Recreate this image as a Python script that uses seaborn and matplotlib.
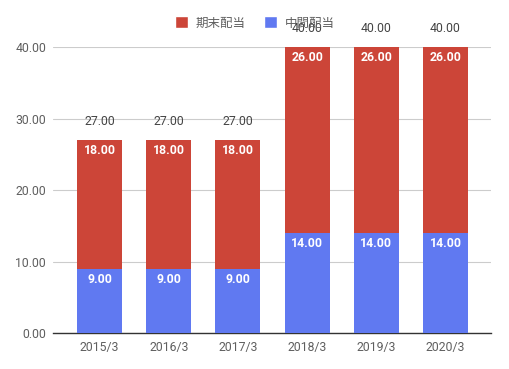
"""
Dividend per share chart - stacked interim / year-end
"""
import numpy as np
import pandas as pd
import matplotlib
matplotlib.use('Agg')
import matplotlib.pyplot as plt
from matplotlib.patches import Patch
import seaborn as sns

years = ['2015/3', '2016/3', '2017/3', '2018/3', '2019/3', '2020/3']
interim = [9.0, 9.0, 9.0, 14.0, 14.0, 14.0]      # 中間配当
year_end = [18.0, 18.0, 18.0, 26.0, 26.0, 26.0]  # 期末配当
yticks = [0, 10, 20, 30, 40]

RED = '#cc4538'
BLUE = '#6079f1'
FONTS = ['Roboto', 'Noto Sans CJK JP', 'DejaVu Sans']

sns.set_style('white')
plt.rcParams['font.family'] = FONTS

df = pd.DataFrame({'year': years, 'interim': interim, 'year_end': year_end})
df['total'] = df['interim'] + df['year_end']

fig = plt.figure(figsize=(5.09, 3.69), dpi=100)
ax = fig.add_axes([53 / 509, 1 - 333 / 369, (491 - 53) / 509, (333 - 47.3) / 369])

# stacked: total in red, interim in blue drawn over it
sns.barplot(data=df, x='year', y='total', color=RED, width=0.65, saturation=1,
            linewidth=0, ax=ax, zorder=2)
sns.barplot(data=df, x='year', y='interim', color=BLUE, width=0.65, saturation=1,
            linewidth=0, ax=ax, zorder=3)

ax.set_xlim(-0.672, 5.657)
ax.set_ylim(0, 40)
ax.set_yticks(yticks)
ax.set_yticklabels([f'{v:.2f}' for v in yticks])
ax.set_xlabel('')
ax.set_ylabel('')
ax.grid(axis='y', color='#cccccc', linewidth=0.8, zorder=0)
ax.set_axisbelow(True)
for side in ['top', 'right', 'left']:
    ax.spines[side].set_visible(False)
ax.spines['bottom'].set_color('#333333')
ax.spines['bottom'].set_linewidth(1.0)
ax.tick_params(axis='both', length=0, labelsize=8.8, colors='#5f5f5f', pad=5)
ax.tick_params(axis='x', pad=6)

px = 285.7 / 40  # pixels per unit
for i, row in df.iterrows():
    ax.text(i, row['interim'] - 10.5 / px, f"{row['interim']:.2f}", ha='center', va='center',
            color='white', fontsize=8.8, fontweight='bold', zorder=5)
    ax.text(i, row['total'] - 10.5 / px, f"{row['year_end']:.2f}", ha='center', va='center',
            color='white', fontsize=8.8, fontweight='bold', zorder=5)
    ax.text(i, row['total'] + 18.5 / px, f"{row['total']:.2f}", ha='center', va='center',
            color='#444444', fontsize=8.8, zorder=5, clip_on=False)

handles = [Patch(facecolor=RED, label='期末配当'), Patch(facecolor=BLUE, label='中間配当')]
fig.legend(handles=handles, loc='center', bbox_to_anchor=(0.5, 1 - 23 / 369), ncol=2,
           frameon=False, fontsize=9, handlelength=1.05, handleheight=1.05,
           handletextpad=0.6, columnspacing=1.5, labelcolor='#5f5f5f')

fig.savefig('out.png', dpi=100, facecolor='white')
